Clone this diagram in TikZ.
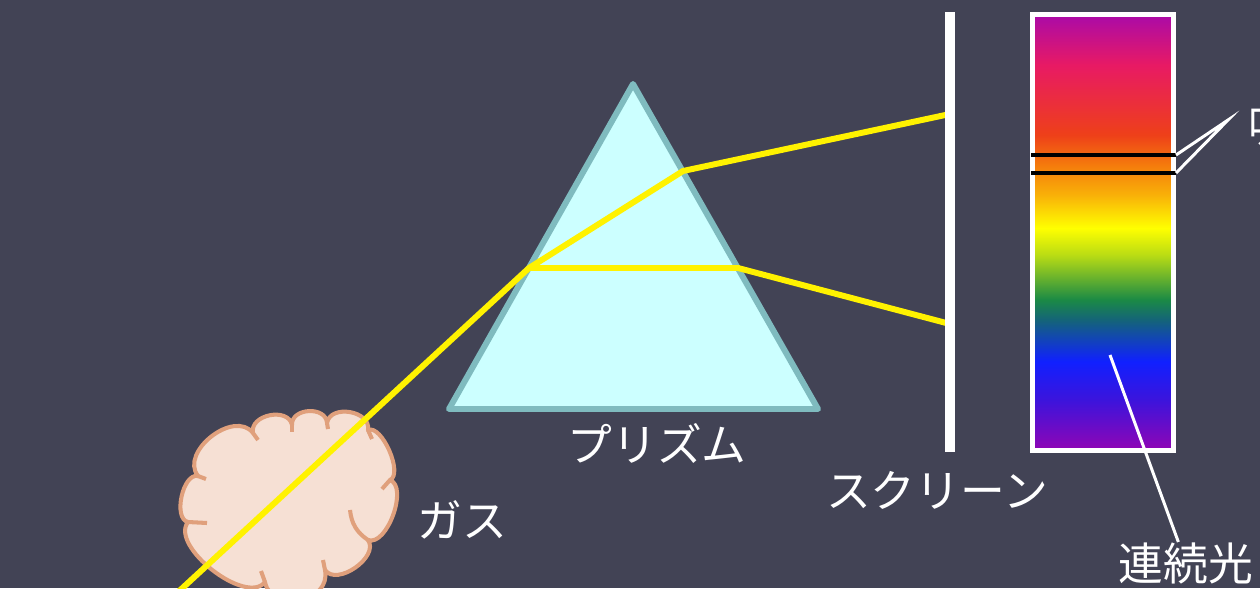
\documentclass[tikz,border=0pt]{standalone}
\usepackage{fontspec}
\setmainfont{Noto Sans CJK JP}
\usepackage{xcolor}
\usetikzlibrary{shapes,arrows}
\usetikzlibrary{positioning}

\definecolor{bg}{RGB}{66,67,85}
\definecolor{glassfill}{RGB}{204,255,255}
\definecolor{glassedge}{RGB}{127,187,191}
\definecolor{gasfill}{RGB}{246,224,212}
\definecolor{gasedge}{RGB}{224,160,124}
\definecolor{sV1}{RGB}{170,10,168}
\definecolor{sPk}{RGB}{232,26,100}
\definecolor{sR}{RGB}{238,64,25}
\definecolor{sO}{RGB}{245,124,12}
\definecolor{sOY}{RGB}{249,177,8}
\definecolor{sY}{RGB}{255,255,0}
\definecolor{sYG}{RGB}{185,220,20}
\definecolor{sG}{RGB}{27,138,69}
\definecolor{sT}{RGB}{20,100,120}
\definecolor{sB}{RGB}{16,32,255}
\definecolor{sI}{RGB}{60,20,220}
\definecolor{sV2}{RGB}{145,5,180}

% colours of the spectrum, bottom (25bp) to top (75bp)
\pgfdeclareverticalshading{spectrum}{100bp}{%
  color(0bp)=(sV2); color(25bp)=(sV2); color(30.8bp)=(sI);
  color(35.2bp)=(sB); color(40bp)=(sT); color(42.3bp)=(sG);
  color(47.4bp)=(sYG); color(50.5bp)=(sY); color(54.3bp)=(sOY);
  color(57.7bp)=(sO); color(61.2bp)=(sR); color(69.2bp)=(sPk);
  color(75bp)=(sV1); color(100bp)=(sV1)}

\tikzstyle{ray} = [draw=yellow, line width=3.4pt, line join=round]
\tikzstyle{lbl} = [text=white, inner sep=0pt, font=\fontsize{25.5}{30}\selectfont]
\tikzstyle{pointer} = [draw=white, line width=1.7pt]
\tikzstyle{absline} = [draw=black, line width=2.8pt]
\tikzstyle{puff} = [draw=gasedge, line width=2.3pt]
\tikzstyle{bulge} = [bend left=90]

\begin{document}
\begin{tikzpicture}[x=0.02cm, y=-0.02cm]
    \fill[bg] (0,0) rectangle (1260,588);
    \useasboundingbox (0,0) rectangle (1260,588);
    \clip (0,0) rectangle (1260,588);

    % Place coordinates
    \coordinate (apex) at (633,84);
    \coordinate (baseL) at (449,409);
    \coordinate (baseR) at (818,409);
    \coordinate (src) at (176,594);
    \coordinate (entry) at (529,268);
    \coordinate (exitA) at (683,171);
    \coordinate (exitB) at (738,268);
    \coordinate (hitA) at (950,114);
    \coordinate (hitB) at (950,324);
    \coordinate (scrTop) at (950,12);
    \coordinate (scrBot) at (950,452);

    % gas cloud: dips between the puffs
    \coordinate (v1) at (198,476);
    \coordinate (v2) at (253,433);
    \coordinate (v3) at (292,425);
    \coordinate (v4) at (327,423);
    \coordinate (v5) at (368,430);
    \coordinate (v6) at (390,480);
    \coordinate (v7) at (368,540);
    \coordinate (v8) at (325,570);
    \coordinate (v9) at (265,582);
    \coordinate (v10) at (188,522);
    \path [puff, fill=gasfill, line join=round]
        (v1) to[bulge, looseness=1.12] (v2) to[bulge, looseness=1.2] (v3)
        to[bulge, looseness=1.26] (v4) to[bulge, looseness=1.2] (v5)
        to[bulge, looseness=0.7] (v6) to[bulge, looseness=0.8] (v7)
        to[bulge, looseness=1.0] (v8) to[bulge, looseness=1.4] (v9)
        to[bulge, looseness=0.8] (v10) to[bulge, looseness=0.85] cycle;
    % folds running into the cloud
    \path [puff] (v1) -- (206,479);
    \path [puff] (v2) -- (258,440);
    \path [puff] (v3) -- (292,432);
    \path [puff] (v4) -- (328,429);
    \path [puff] (v5) -- (372,439);
    \path [puff] (v6) -- (382,489);
    \path [puff] (v7) to[bend left=25] (350,510);
    \path [puff] (v8) -- (323,560);
    \path [puff] (v9) -- (261,571);
    \path [puff] (v10) -- (207,523);

    % prism
    \draw [fill=glassfill, draw=glassedge, line width=3.4pt, line join=round]
        (apex) -- (baseL) -- (baseR) -- cycle;

    % light paths
    \path [ray] (src) -- (entry) -- (exitA) -- (hitA);
    \path [ray] (entry) -- (exitB) -- (hitB);

    % screen
    \draw [white, line width=5.7pt] (scrTop) -- (scrBot);

    % spectrum strip
    \node [draw=white, line width=2.85pt, shading=spectrum,
           minimum width=2.82cm, minimum height=8.72cm, inner sep=0pt]
           (spec) at (1103,232.5) {};
    \coordinate (absA) at (1031,155);
    \coordinate (absB) at (1031,173);
    \path [absline] (absA) -- (absA -| spec.east);
    \path [absline] (absB) -- (absB -| spec.east);

    % labels
    \node [lbl] (prismlbl) at (657,443) {プリズム};
    \node [lbl] (screenlbl) at (937,490) {スクリーン};
    \node [lbl] (gaslbl) at (462,520) {ガス};
    \node [lbl] (contlbl) at (1186,563) {連続光};
    \node [lbl, anchor=west] (abslbl) at (1248,126) {吸収線};

    % pointers
    \coordinate (absjoin) at (1228,120);
    \coordinate (contpt) at (1110,355);
    \path [pointer] (absA -| spec.east) -- (absjoin) -- (absB -| spec.east);
    \path [pointer] (contpt) -- (contlbl.110);

\end{tikzpicture}
\end{document}
